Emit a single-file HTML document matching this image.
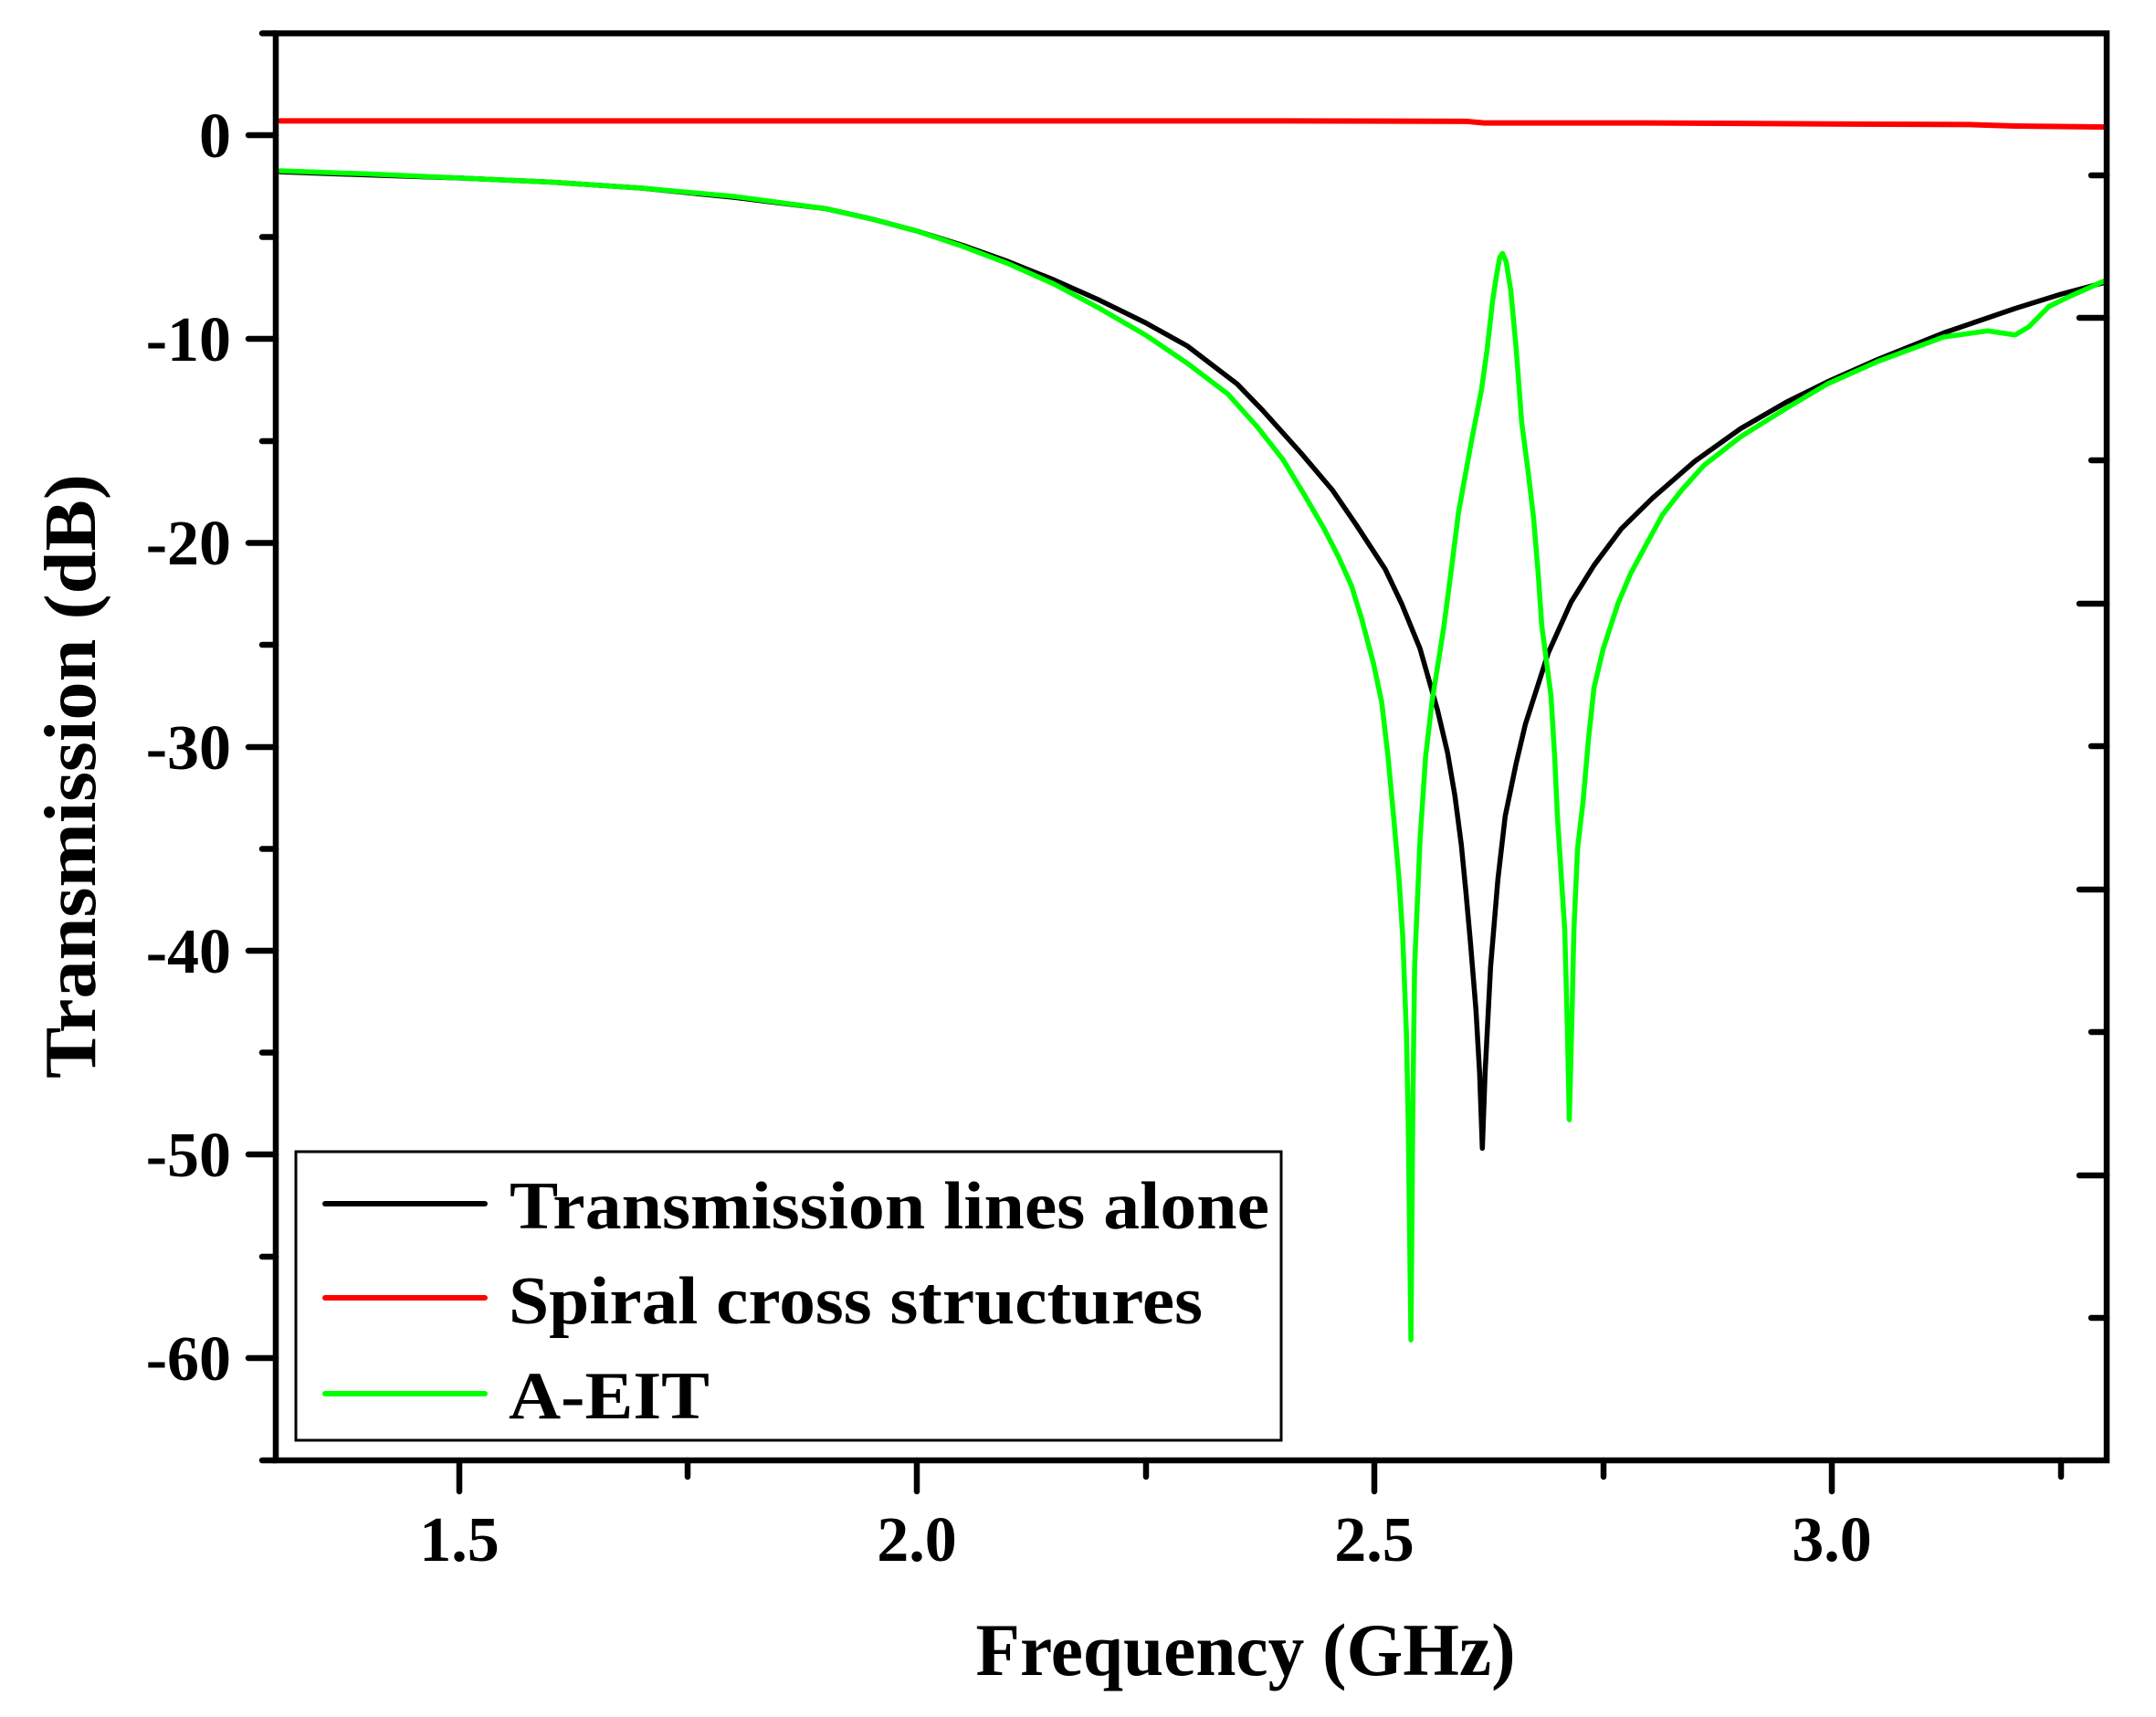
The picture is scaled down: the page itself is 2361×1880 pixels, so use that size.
<!DOCTYPE html>
<html><head><meta charset="utf-8"><style>
html,body{margin:0;padding:0;background:#fff;}
svg{display:block;}
text{font-family:"Liberation Serif","Times New Roman",serif;font-weight:bold;fill:#000;}
</style></head><body>
<svg width="2361" height="1880" viewBox="0 0 2361 1880" xmlns="http://www.w3.org/2000/svg">
<rect width="2361" height="1880" fill="#fff"/>
<g transform="matrix(1002.5 0 0 -22.32 -1001.25 148)" fill="none" stroke-linejoin="round" stroke-linecap="round">
<polyline vector-effect="non-scaling-stroke" stroke="#ff0000" stroke-width="6" points="1.305,0.7 1.6,0.7 2.0,0.7 2.4,0.7 2.6,0.68 2.62,0.6 2.8,0.6 3.0,0.55 3.15,0.52 3.2,0.45 3.3,0.4"/>
<polyline vector-effect="non-scaling-stroke" stroke="#000" stroke-width="5.5" points="1.305,-1.8 1.4,-1.95 1.5,-2.1 1.6,-2.3 1.7,-2.6 1.8,-3.05 1.9,-3.6 1.95,-4.1 2.0,-4.7 2.05,-5.4 2.1,-6.2 2.15,-7.1 2.2,-8.1 2.25,-9.2 2.296,-10.35 2.35,-12.2 2.378,-13.5 2.42,-15.6 2.454,-17.4 2.48,-19.1 2.512,-21.3 2.53,-23 2.55,-25.2 2.569,-28.2 2.58,-30.3 2.588,-32.4 2.595,-34.8 2.6,-37.1 2.605,-39.6 2.611,-42.9 2.615,-46 2.618,-49.7 2.621,-46 2.627,-40.8 2.635,-36.5 2.643,-33.4 2.655,-30.8 2.665,-28.9 2.69,-25.4 2.715,-22.9 2.74,-21.1 2.77,-19.3 2.804,-17.8 2.85,-16 2.9,-14.4 2.95,-13.1 2.995,-12.1 3.05,-11 3.122,-9.7 3.2,-8.5 3.25,-7.8 3.3,-7.2"/>
<polyline vector-effect="non-scaling-stroke" stroke="#00ff00" stroke-width="5.5" points="1.305,-1.75 1.4,-1.9 1.5,-2.1 1.6,-2.3 1.7,-2.6 1.8,-3.0 1.9,-3.6 1.95,-4.1 2.0,-4.7 2.05,-5.45 2.1,-6.3 2.15,-7.3 2.2,-8.5 2.25,-9.8 2.296,-11.2 2.34,-12.7 2.372,-14.3 2.4,-15.9 2.423,-17.6 2.445,-19.3 2.461,-20.7 2.475,-22.1 2.486,-23.7 2.499,-25.9 2.508,-27.8 2.515,-30.5 2.521,-33.4 2.527,-36.5 2.531,-39.3 2.535,-44 2.537,-48.3 2.54,-59.1 2.542,-48 2.544,-40.8 2.55,-34.5 2.556,-30.5 2.563,-27.8 2.576,-24.1 2.585,-21 2.592,-18.5 2.607,-14.8 2.617,-12.5 2.623,-10.6 2.629,-8.2 2.633,-7.0 2.637,-6.0 2.64,-5.8 2.644,-6.2 2.649,-7.6 2.655,-10.5 2.661,-14.1 2.668,-16.5 2.674,-18.8 2.679,-21.5 2.683,-24.1 2.693,-27.5 2.697,-30.5 2.7,-33.4 2.708,-39.0 2.711,-44 2.713,-48.3 2.716,-43 2.718,-39.0 2.722,-35 2.728,-32.7 2.734,-29.6 2.74,-27.1 2.75,-25.2 2.766,-23 2.78,-21.5 2.798,-20 2.815,-18.6 2.836,-17.4 2.86,-16.2 2.9,-14.8 2.95,-13.4 2.995,-12.2 3.05,-11.1 3.122,-9.9 3.17,-9.6 3.2,-9.8 3.215,-9.4 3.237,-8.4 3.26,-7.9 3.29,-7.3 3.3,-7.1"/>
</g>
<g stroke="#000" stroke-width="6.5" fill="none" stroke-linecap="round">
<rect x="302" y="36.5" width="2005" height="1562.5"/>
<line x1="272" y1="148" x2="302" y2="148"/>
<line x1="272" y1="371" x2="302" y2="371"/>
<line x1="272" y1="594.5" x2="302" y2="594.5"/>
<line x1="272" y1="818" x2="302" y2="818"/>
<line x1="272" y1="1041" x2="302" y2="1041"/>
<line x1="272" y1="1264" x2="302" y2="1264"/>
<line x1="272" y1="1487" x2="302" y2="1487"/>
<line x1="287" y1="36.5" x2="302" y2="36.5"/>
<line x1="287" y1="259.5" x2="302" y2="259.5"/>
<line x1="287" y1="483" x2="302" y2="483"/>
<line x1="287" y1="706" x2="302" y2="706"/>
<line x1="287" y1="929.5" x2="302" y2="929.5"/>
<line x1="287" y1="1152.5" x2="302" y2="1152.5"/>
<line x1="287" y1="1376" x2="302" y2="1376"/>
<line x1="287" y1="1599" x2="302" y2="1599"/>
<line x1="503" y1="1599" x2="503" y2="1633"/>
<line x1="1004" y1="1599" x2="1004" y2="1633"/>
<line x1="1505" y1="1599" x2="1505" y2="1633"/>
<line x1="2006" y1="1599" x2="2006" y2="1633"/>
<line x1="753" y1="1599" x2="753" y2="1617"/>
<line x1="1255" y1="1599" x2="1255" y2="1617"/>
<line x1="1756" y1="1599" x2="1756" y2="1617"/>
<line x1="2257" y1="1599" x2="2257" y2="1617"/>
<line x1="2290" y1="192" x2="2307" y2="192"/>
<line x1="2277" y1="348" x2="2307" y2="348"/>
<line x1="2290" y1="504" x2="2307" y2="504"/>
<line x1="2277" y1="661" x2="2307" y2="661"/>
<line x1="2290" y1="817" x2="2307" y2="817"/>
<line x1="2277" y1="974" x2="2307" y2="974"/>
<line x1="2290" y1="1130" x2="2307" y2="1130"/>
<line x1="2277" y1="1287" x2="2307" y2="1287"/>
<line x1="2290" y1="1443" x2="2307" y2="1443"/>
</g>
<g font-size="70" text-anchor="end">
<text x="253" y="172">0</text>
<text x="253" y="395">-10</text>
<text x="253" y="618">-20</text>
<text x="253" y="842">-30</text>
<text x="253" y="1065">-40</text>
<text x="253" y="1288">-50</text>
<text x="253" y="1511">-60</text>
</g>
<g font-size="70" text-anchor="middle">
<text x="503" y="1709">1.5</text>
<text x="1004" y="1709">2.0</text>
<text x="1505" y="1709">2.5</text>
<text x="2006" y="1709">3.0</text>
</g>
<text x="1364" y="1834" font-size="82" text-anchor="middle" textLength="591" lengthAdjust="spacingAndGlyphs">Frequency (GHz)</text>
<text transform="translate(104,850) rotate(-90)" font-size="80" text-anchor="middle" textLength="662" lengthAdjust="spacingAndGlyphs">Transmission (dB)</text>
<rect x="324" y="1261" width="1079" height="316" fill="#fff" stroke="#000" stroke-width="3"/>
<g stroke-width="6" stroke-linecap="round">
<line x1="356" y1="1318" x2="531" y2="1318" stroke="#000"/>
<line x1="356" y1="1421" x2="531" y2="1421" stroke="#ff0000"/>
<line x1="356" y1="1526" x2="531" y2="1526" stroke="#00ff00"/>
</g>
<g font-size="74">
<text x="558" y="1345" textLength="832" lengthAdjust="spacingAndGlyphs">Transmission lines alone</text>
<text x="557" y="1449" textLength="760" lengthAdjust="spacingAndGlyphs">Spiral cross structures</text>
<text x="557" y="1553" textLength="220" lengthAdjust="spacingAndGlyphs">A-EIT</text>
</g>
</svg>
</body></html>
